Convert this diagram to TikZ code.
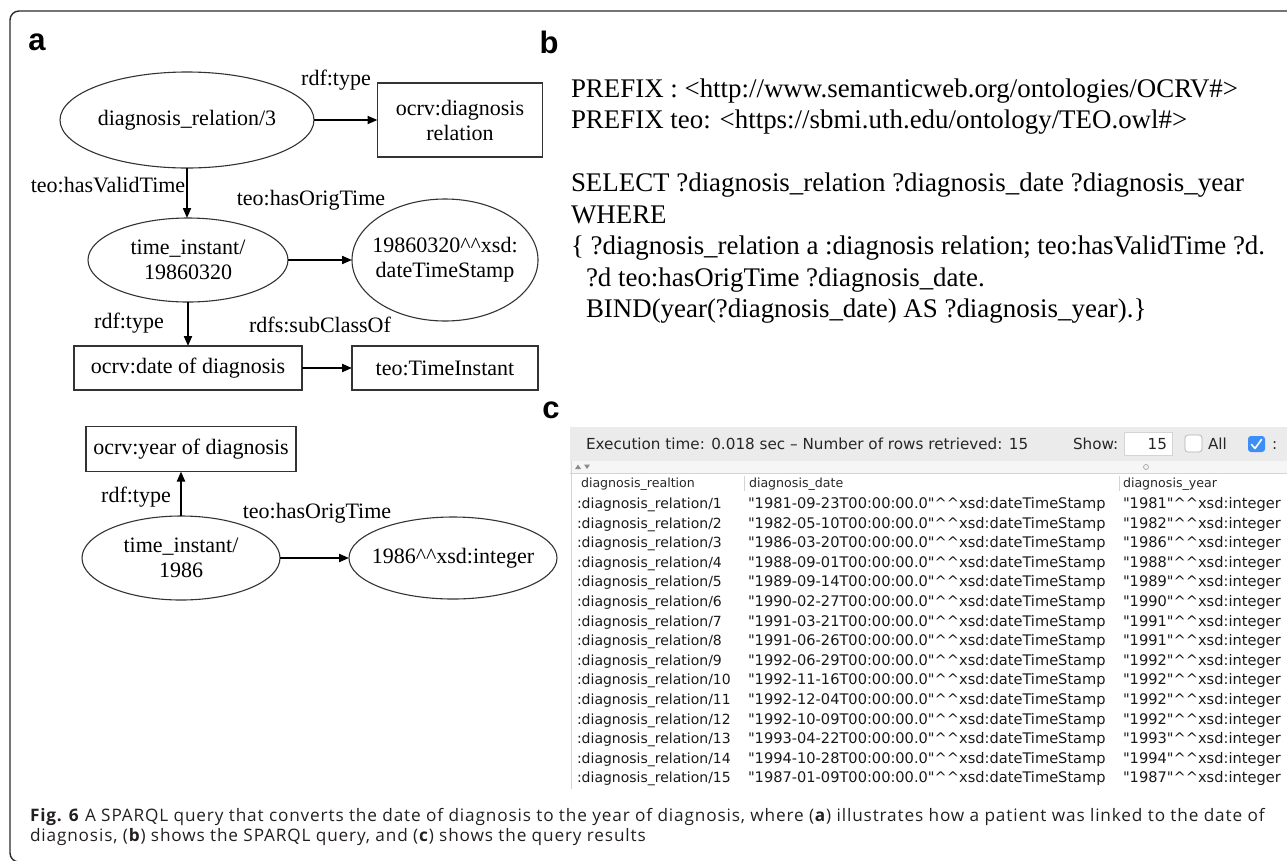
\documentclass[tikz,border=0pt]{standalone}
\usepackage{fontspec}
\setmainfont{Liberation Serif}
\newfontfamily\tblfont{DejaVu Sans}
\newfontfamily\capfont[LetterSpace=5]{Open Sans}
\newfontfamily\panelfont{Liberation Sans}
\usetikzlibrary{shapes.geometric,arrows.meta}
\newcommand\dcaret{\textasciicircum\textasciicircum}
\definecolor{framegray}{HTML}{2B2B2B}
\definecolor{barbg}{HTML}{EBEBEB}
\definecolor{stripbg}{HTML}{F6F6F6}
\definecolor{gridline}{HTML}{D4D4D4}
\definecolor{tickblue}{HTML}{3D8EF5}
\definecolor{captext}{HTML}{231F20}

\begin{document}
\begin{tikzpicture}[x=1pt,y=-1pt,
  every node/.style={inner sep=0pt,outer sep=0pt},
  graphtxt/.style={font=\fontsize{22}{25}\selectfont,align=center,text=black},
  ell/.style={draw=black!80,line width=1.1pt,ellipse},
  cls/.style={draw=black!80,line width=1.1pt,rectangle,graphtxt},
  rel/.style={line width=2pt,-{Triangle[length=10pt,width=8pt]}},
  edgelbl/.style={graphtxt},
  panel/.style={font=\panelfont\bfseries\fontsize{31}{31}\selectfont},
  query/.style={font=\fontsize{26.9}{27}\selectfont,anchor=base west},
  cell/.style={font=\tblfont\fontsize{14}{14}\selectfont,anchor=base west,text=black!90},
  cellwide/.style={font=\tblfont\fontsize{14.6}{14}\selectfont,anchor=base west,text=black!90},
  headcell/.style={font=\tblfont\fontsize{12.6}{13}\selectfont,anchor=base west,text=black!85},
  toolbar/.style={font=\tblfont\fontsize{15.2}{15}\selectfont,anchor=base west,text=black!85},
  capline/.style={font=\capfont\fontsize{17.2}{20}\selectfont,anchor=base west,text=captext}
]
\useasboundingbox (0,0) rectangle (1287,860);

% outer frame
\draw[framegray,line width=1.4pt,rounded corners=9pt] (10,11) rectangle (1296,862);

% ---------- panel a: RDF graph ----------
\node[panel] (la) at (37,42) {a};

\node[ell,minimum width=254,minimum height=96,
  label={[graphtxt]center:diagnosis\_relation/3}] (diag) at (187,120) {};
\node[cls,minimum width=165,minimum height=74] (cdiag) at (460,120) {ocrv:diagnosis\\relation};
\node[ell,minimum width=200,minimum height=84,
  label={[graphtxt]center:{time\_instant/\\19860320}}] (ti1) at (188,260) {};
\node[ell,minimum width=186,minimum height=122,
  label={[graphtxt]center:{19860320\dcaret xsd:\\dateTimeStamp}}] (lit1) at (445,260) {};
\node[cls,minimum width=228,minimum height=44] (cdate) at (188,368) {ocrv:date of diagnosis};
\node[cls,minimum width=186,minimum height=44] (ctime) at (445,368) {teo:TimeInstant};
\node[cls,minimum width=210,minimum height=45] (cyear) at (191,449) {ocrv:year of diagnosis};
\node[ell,minimum width=198,minimum height=84,
  label={[graphtxt]center:{time\_instant/\\1986}}] (ti2) at (181,558) {};
\node[ell,minimum width=208,minimum height=82,
  label={[graphtxt]center:1986\dcaret xsd:integer}] (lit2) at (453,558) {};

\draw[rel] (diag.east) -- (cdiag.west);
\draw[rel] (diag.south) -- (diag.south |- ti1.north);
\draw[rel] (ti1.east) -- (lit1.west);
\draw[rel] (ti1.south) -- (ti1.south |- cdate.north);
\draw[rel] (cdate.east) -- (ctime.west);
\draw[rel] (ti2.north) -- (ti2.north |- cyear.south);
\draw[rel] (ti2.east) -- (lit2.west);

\node[edgelbl] (l1) at (336,80) {rdf:type};
\node[edgelbl] (l2) at (108,185) {teo:hasValidTime};
\node[edgelbl] (l3) at (311,200) {teo:hasOrigTime};
\node[edgelbl] (l4) at (129,323) {rdf:type};
\node[edgelbl] (l5) at (320,325) {rdfs:subClassOf};
\node[edgelbl] (l6) at (136,497) {rdf:type};
\node[edgelbl] (l7) at (317,513) {teo:hasOrigTime};

% ---------- panel b: SPARQL query ----------
\node[panel] (lb) at (549,42) {b};
\node[query] (q1) at (571,97) {PREFIX : <http://www.semanticweb.org/ontologies/OCRV\#>};
\node[query] (q2) at (571,128.5) {PREFIX teo: <https://sbmi.uth.edu/ontology/TEO.owl\#>};
\node[query] (q3) at (571,191.5) {SELECT ?diagnosis\_relation ?diagnosis\_date ?diagnosis\_year};
\node[query] (q4) at (571,223) {WHERE};
\node[query] (q5) at (571,254.5) {\{ ?diagnosis\_relation a :diagnosis relation; teo:hasValidTime ?d.};
\node[query] (q6) at (586,286) {?d teo:hasOrigTime ?diagnosis\_date.};
\node[query] (q7) at (586,317.5) {BIND(year(?diagnosis\_date) AS ?diagnosis\_year).\}};

% ---------- panel c: result table ----------
\node[panel] (lc) at (551,410) {c};

\fill[barbg] (570,427) rectangle (1287,461);
\fill[stripbg] (570,461) rectangle (1287,473);
\draw[gridline,line width=0.8pt] (570,473) -- (1287,473);
\draw[gridline,line width=0.8pt] (571,461) -- (571,789);
\draw[gridline,line width=0.8pt] (744,476) -- (744,491);
\draw[gridline,line width=0.8pt] (1119,476) -- (1119,491);
% sort arrows and column grip
\fill[black!45] (575,469) -- (578,464.5) -- (581,469) -- cycle;
\fill[black!45] (584,464.5) -- (590,464.5) -- (587,469) -- cycle;
\draw[black!35,line width=0.7pt] (1146,467) circle (2.5);

\node[toolbar] (exec) at (586,449.5) {Execution time: 0.018 sec \textendash{} Number of rows retrieved: 15};
\node[toolbar] (show) at (1073,449.5) {Show:};
\node[draw=gridline,fill=white,line width=0.7pt,minimum width=48,minimum height=23] (limit) at (1148,443.5) {};
\node[toolbar,anchor=base east] (limitval) at (1167,449.5) {15};
\node[draw=black!30,fill=white,line width=0.7pt,rounded corners=3pt,minimum width=17,minimum height=17] (allbox) at (1193.5,443.5) {};
\node[toolbar] (all) at (1208,449.5) {All};
\node[fill=tickblue,rounded corners=3pt,minimum width=17,minimum height=16] (tick) at (1256.5,444) {};
\draw[white,line width=1.6pt,line cap=round,line join=round] (1251.5,444.5) -- (1255,448.5) -- (1261.5,439.5);
\node[toolbar] (more) at (1272,449.5) {:};

\node[headcell] (h1) at (581,487.5) {diagnosis\_realtion};
\node[headcell] (h2) at (749,487.5) {diagnosis\_date};
\node[headcell] (h3) at (1123,487.5) {diagnosis\_year};

\foreach \n/\dt/\yr [count=\k from 0] in {
  1/1981-09-23/1981, 2/1982-05-10/1982, 3/1986-03-20/1986, 4/1988-09-01/1988,
  5/1989-09-14/1989, 6/1990-02-27/1990, 7/1991-03-21/1991, 8/1991-06-26/1991,
  9/1992-06-29/1992, 10/1992-11-16/1992, 11/1992-12-04/1992, 12/1992-10-09/1992,
  13/1993-04-22/1993, 14/1994-10-28/1994, 15/1987-01-09/1987} {
  \node[cell] (rel\n) at (577,508.5+19.6*\k) {:diagnosis\_relation/\n};
  \node[cellwide] (date\n) at (748,508.5+19.6*\k) {"\dt T00:00:00.0"\dcaret xsd:dateTimeStamp};
  \node[cellwide] (year\n) at (1123,508.5+19.6*\k) {"\yr"\dcaret xsd:integer};
}

% ---------- caption ----------
\node[capline] (cap1) at (30,821) {\textbf{Fig. 6} A SPARQL query that converts the date of diagnosis to the year of diagnosis, where (\textbf{a}) illustrates how a patient was linked to the date of};
\node[capline] (cap2) at (30,841) {diagnosis, (\textbf{b}) shows the SPARQL query, and (\textbf{c}) shows the query results};
\end{tikzpicture}
\end{document}
